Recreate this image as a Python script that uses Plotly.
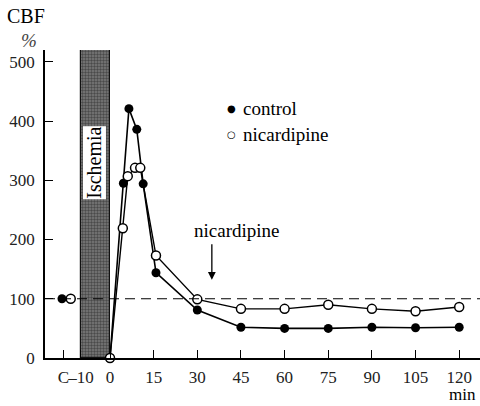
import plotly.graph_objects as go

# ---- data (minutes after ischemia, CBF %) ----
control_t = [0, 4.6, 6.5, 9.2, 11.4, 15.8, 30, 45, 60, 75, 90, 105, 120]
control_v = [0, 295, 421, 386, 294, 144, 81, 52, 50, 50, 52, 51, 52]
nicard_t = [0, 4.4, 6.1, 8.6, 10.4, 15.8, 30, 45, 60, 75, 90, 105, 120]
nicard_v = [0, 219, 307, 321, 321, 173, 99, 83, 83, 90, 83, 79, 86]
control_base_t = [-16.5]
control_base_v = [100]
nicard_base_t = [-13.5]
nicard_base_v = [100]
ischemia_start, ischemia_end, ischemia_top = -10, 0, 520
baseline = 100
nicard_time = 35

x_tickvals = [-16, -10, 0, 15, 30, 45, 60, 75, 90, 105, 120]
x_ticktext = ["C", "\u201310", "0", "15", "30", "45", "60", "75", "90", "105", "120"]
y_tickvals = [0, 100, 200, 300, 400, 500]

FONT = "Liberation Serif"

fig = go.Figure()

# ischemia bar
fig.add_trace(go.Bar(
    x=[(ischemia_start + ischemia_end) / 2], y=[ischemia_top], base=0,
    width=[ischemia_end - ischemia_start],
    marker=dict(color="#555555", line=dict(color="#111111", width=1.2),
                pattern=dict(shape=".", fgcolor="#1a1a1a", bgcolor="#7a7a7a",
                             size=3, solidity=0.5)),
    showlegend=False, hoverinfo="skip"))

fig.add_shape(type="line", xref="x", yref="y", x0=-22.34, x1=127.15,
              y0=baseline, y1=baseline, layer="above",
              line=dict(color="black", width=1.1, dash="10px,6px"))

fig.add_trace(go.Scatter(x=control_t, y=control_v, mode="lines+markers",
                         line=dict(color="black", width=1.6),
                         marker=dict(symbol="circle", size=9, color="black"),
                         name="control", showlegend=False, cliponaxis=False))
fig.add_trace(go.Scatter(x=nicard_t, y=nicard_v, mode="lines+markers",
                         line=dict(color="black", width=1.4),
                         marker=dict(symbol="circle", size=9, color="white",
                                     line=dict(color="black", width=1.5)),
                         name="nicardipine", showlegend=False, cliponaxis=False))
fig.add_trace(go.Scatter(x=control_base_t, y=control_base_v, mode="markers",
                         marker=dict(symbol="circle", size=9, color="black"),
                         showlegend=False, cliponaxis=False))
fig.add_trace(go.Scatter(x=nicard_base_t, y=nicard_base_v, mode="markers",
                         marker=dict(symbol="circle", size=9, color="white",
                                     line=dict(color="black", width=1.5)),
                         showlegend=False, cliponaxis=False))


def pa(text, px, py, size=19, anchor="center", family=FONT, color="black"):
    return dict(x=(px - 45) / 435, y=(358 - py) / 308, xref="paper", yref="paper",
                text=text, showarrow=False, xanchor=anchor, yanchor="middle",
                font=dict(family=family, size=size, color=color))


ann = []
ann.append(dict(x=-5.3, y=329, xref="x", yref="y", text="Ischemia", textangle=-90,
                showarrow=False, bgcolor="white", borderpad=0,
                xanchor="center", yanchor="middle",
                font=dict(family=FONT, size=20, color="black")))
ann.append(pa("CBF", 26, 16, size=20))
ann.append(pa("<i>%</i>", 29, 41, size=19, color="#444"))
ann.append(pa("min", 462, 394, size=17))
# legend
ann.append(pa("\u25CF", 231, 108, size=10, family="DejaVu Sans"))
ann.append(pa("\u25CB", 231, 134, size=10, family="DejaVu Sans"))
ann.append(pa("control", 241, 108, anchor="left"))
ann.append(pa("nicardipine", 241, 134, anchor="left"))
# nicardipine arrow
ann.append(pa("nicardipine", 236, 230))
ann.append(dict(x=nicard_time, y=132, xref="x", yref="y", text="", showarrow=True,
                ax=0, ay=-37, arrowhead=2, arrowsize=1.2, arrowwidth=1.3,
                arrowcolor="black"))

fig.update_layout(
    width=480, height=406,
    margin=dict(l=45, r=0, t=50, b=48, autoexpand=False),
    plot_bgcolor="white", paper_bgcolor="white",
    annotations=ann, showlegend=False, bargap=0,
    font=dict(family=FONT, size=17, color="black"),
)
fig.update_xaxes(range=[-22.34, 127.15], tickvals=x_tickvals, ticktext=x_ticktext,
                 showline=True, linecolor="black", linewidth=1.5,
                 ticks="inside", ticklen=8, tickwidth=1.3, tickcolor="black",
                 showgrid=False, zeroline=False, ticklabelstandoff=3,
                 tickangle=0, automargin=False,
                 tickfont=dict(family=FONT, size=17, color="#222"))
fig.update_yaxes(range=[0, 520], tickvals=y_tickvals,
                 showline=True, linecolor="black", linewidth=1.5,
                 ticks="inside", ticklen=8, tickwidth=1.3, tickcolor="black",
                 showgrid=False, zeroline=False, ticklabelstandoff=5,
                 automargin=False,
                 tickfont=dict(family=FONT, size=17, color="#222"))

fig.write_html("out.html", config={"displayModeBar": False},
               post_script="document.body.style.margin='0';document.body.style.padding='0';")
